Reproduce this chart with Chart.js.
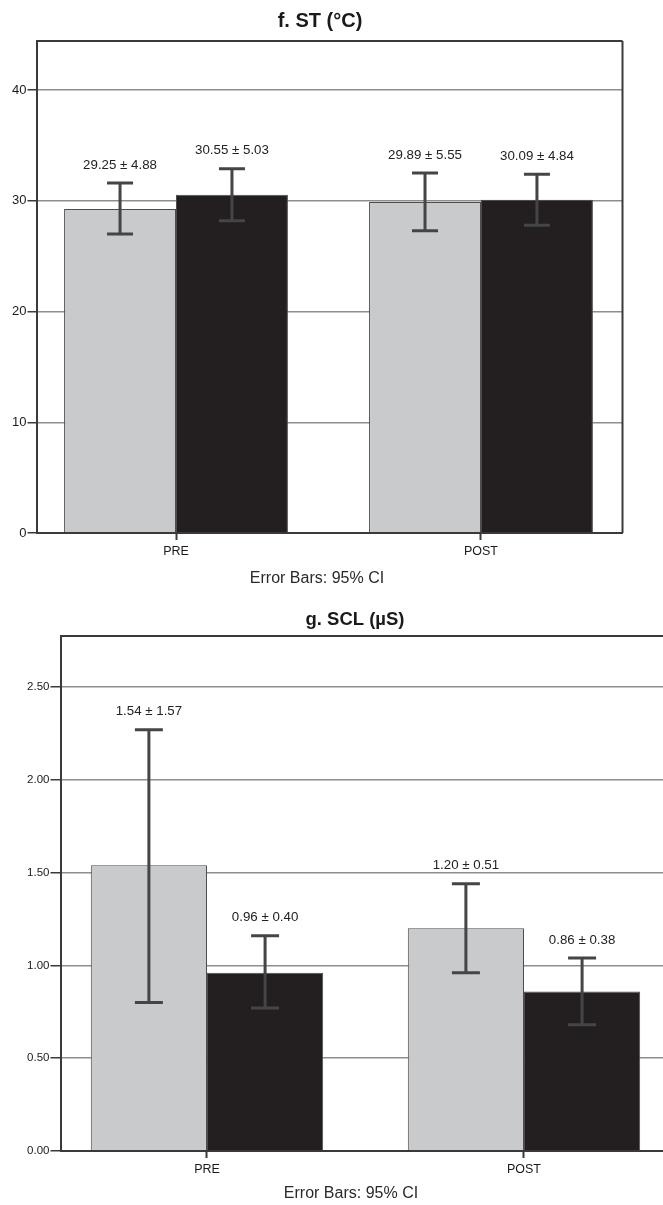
<!DOCTYPE html>
<html>
<head>
<meta charset="utf-8">
<script src="https://cdn.jsdelivr.net/npm/chart.js@4.4.1/dist/chart.umd.min.js"></script>
<style>
  html, body { margin: 0; padding: 0; background: #fff; overflow: hidden; }
  #wrap { position: relative; width: 663px; height: 1205px; }
  .panel { position: absolute; left: 0; width: 663px; }
  #p1 { top: 0; height: 600px; }
  #p2 { top: 600px; height: 605px; }
</style>
</head>
<body>
<div id="wrap">
  <div class="panel" id="p1"><canvas id="c1" width="663" height="600"></canvas></div>
  <div class="panel" id="p2"><canvas id="c2" width="663" height="605"></canvas></div>
</div>
<script>
// Measurement phases on the x axis
const phases = ['PRE', 'POST'];

// f. ST (°C): means, SDs and 95% CI limits per group
const stMeanLight   = [29.25, 29.89];
const stSdLight     = [4.88, 5.55];
const stCiLowLight  = [27.0, 27.3];
const stCiHighLight = [31.6, 32.5];
const stMeanDark    = [30.55, 30.09];
const stSdDark      = [5.03, 4.84];
const stCiLowDark   = [28.2, 27.8];
const stCiHighDark  = [32.9, 32.4];
const stTicks       = [0, 10, 20, 30, 40];

// g. SCL (µS): means, SDs and 95% CI limits per group
const sclMeanLight   = [1.54, 1.20];
const sclSdLight     = [1.57, 0.51];
const sclCiLowLight  = [0.80, 0.96];
const sclCiHighLight = [2.27, 1.44];
const sclMeanDark    = [0.96, 0.86];
const sclSdDark      = [0.40, 0.38];
const sclCiLowDark   = [0.77, 0.68];
const sclCiHighDark  = [1.16, 1.04];
const sclTicks       = [0, 0.5, 1.0, 1.5, 2.0, 2.5];

const FONT = '"Liberation Sans", Arial, sans-serif';
const LIGHT = '#c9cacc';
const DARK = '#231f20';
const AXIS = '#3a3a3a';
const GRID = '#8e8e8e';

// Error bars, "mean ± SD" labels, frame and captions
const decor = {
  id: 'decor',
  afterDatasetsDraw(chart, args, o) {
    const ctx = chart.ctx;
    const y = chart.scales.y;
    o.series.forEach((s, di) => {
      const meta = chart.getDatasetMeta(di);
      meta.data.forEach((bar, i) => {
        const yl = y.getPixelForValue(s.lo[i]);
        const yh = y.getPixelForValue(s.hi[i]);
        const half = o.cap / 2;
        ctx.save();
        ctx.strokeStyle = '#454545';
        ctx.lineWidth = 3;
        ctx.beginPath();
        ctx.moveTo(bar.x, yl); ctx.lineTo(bar.x, yh);
        ctx.moveTo(bar.x - half, yh); ctx.lineTo(bar.x + half, yh);
        ctx.moveTo(bar.x - half, yl); ctx.lineTo(bar.x + half, yl);
        ctx.stroke();
        ctx.fillStyle = '#222';
        ctx.font = '13.3px ' + FONT;
        ctx.textAlign = 'center';
        ctx.textBaseline = 'middle';
        ctx.fillText(s.mean[i].toFixed(2) + ' ± ' + s.sd[i].toFixed(2), bar.x, yh - 18);
        ctx.restore();
      });
    });
  },
  afterDraw(chart, args, o) {
    const ctx = chart.ctx;
    const a = chart.chartArea;
    ctx.save();
    ctx.strokeStyle = AXIS;
    ctx.lineWidth = 2;
    ctx.beginPath();
    ctx.moveTo(a.left, a.top); ctx.lineTo(a.right, a.top);
    if (o.rightBorder) { ctx.moveTo(a.right, a.top); ctx.lineTo(a.right, a.bottom); }
    ctx.stroke();
    ctx.fillStyle = '#1a1a1a';
    ctx.textAlign = 'center';
    ctx.textBaseline = 'middle';
    ctx.font = 'bold ' + o.titleSize + 'px ' + FONT;
    ctx.fillText(o.title, o.titleX, o.titleY);
    ctx.font = '16px ' + FONT;
    ctx.fillStyle = '#2a2a2a';
    ctx.fillText('Error Bars: 95% CI', o.noteX, o.noteY);
    ctx.restore();
  }
};

function makePanel(canvasId, cfg) {
  const pointsOf = arr => arr.map((v, i) => ({ x: i, y: v }));
  return new Chart(document.getElementById(canvasId), {
    type: 'bar',
    data: {
      datasets: [
        { data: pointsOf(cfg.meanLight), backgroundColor: LIGHT, borderColor: '#4d4d4d', borderWidth: 1, borderSkipped: 'bottom' },
        { data: pointsOf(cfg.meanDark),  backgroundColor: DARK,  borderColor: '#4d4d4d', borderWidth: 1, borderSkipped: 'bottom' }
      ]
    },
    options: {
      responsive: false,
      animation: false,
      devicePixelRatio: 1,
      layout: { padding: cfg.padding },
      datasets: { bar: { categoryPercentage: cfg.catPct, barPercentage: 1.0 } },
      plugins: {
        legend: { display: false },
        tooltip: { enabled: false },
        decor: {
          series: [
            { mean: cfg.meanLight, sd: cfg.sdLight, lo: cfg.loLight, hi: cfg.hiLight },
            { mean: cfg.meanDark,  sd: cfg.sdDark,  lo: cfg.loDark,  hi: cfg.hiDark }
          ],
          cap: cfg.cap,
          title: cfg.title, titleSize: cfg.titleSize, titleX: cfg.titleX, titleY: cfg.titleY,
          noteX: cfg.noteX, noteY: cfg.noteY,
          rightBorder: cfg.rightBorder
        }
      },
      scales: {
        x: {
          type: 'linear',
          offset: false,
          min: cfg.xMin, max: cfg.xMax,
          afterBuildTicks: s => { s.ticks = phases.map((_, i) => ({ value: i })); },
          afterFit: s => { s.height = cfg.xHeight; },
          grid: { display: true, offset: false, drawOnChartArea: false, drawTicks: true, tickLength: 7, tickColor: AXIS, tickWidth: 2 },
          border: { display: true, color: AXIS, width: 2, z: 1 },
          ticks: {
            padding: 4,
            color: '#1a1a1a',
            font: { family: FONT, size: 12.5 },
            maxRotation: 0,
            callback: v => phases[v] ?? ''
          }
        },
        y: {
          min: 0, max: cfg.yMax,
          afterBuildTicks: s => { s.ticks = cfg.yTicks.map(v => ({ value: v })); },
          afterFit: s => { s.width = cfg.yWidth; },
          grid: { color: GRID, lineWidth: 1.5, drawTicks: true, tickLength: cfg.tickLen, tickColor: AXIS, tickWidth: 1.5 },
          border: { display: true, color: AXIS, width: 2, z: 1 },
          ticks: {
            padding: 1,
            color: '#1a1a1a',
            font: { family: FONT, size: cfg.yFont },
            callback: v => v.toFixed(cfg.decimals)
          }
        }
      }
    },
    plugins: [decor]
  });
}

makePanel('c1', {
  meanLight: stMeanLight, sdLight: stSdLight, loLight: stCiLowLight, hiLight: stCiHighLight,
  meanDark: stMeanDark, sdDark: stSdDark, loDark: stCiLowDark, hiDark: stCiHighDark,
  yTicks: stTicks, yMax: 44.43, decimals: 0, yFont: 13, tickLen: 9,
  padding: { left: 0, top: 41, right: 40.5, bottom: 0 },
  yWidth: 36.5, xHeight: 67,
  xMin: -0.4574, xMax: 1.464, catPct: 0.734, cap: 26,
  title: 'f. ST (°C)', titleSize: 20, titleX: 320, titleY: 21,
  noteX: 317, noteY: 578.5, rightBorder: true
});

makePanel('c2', {
  meanLight: sclMeanLight, sdLight: sclSdLight, loLight: sclCiLowLight, hiLight: sclCiHighLight,
  meanDark: sclMeanDark, sdDark: sclSdDark, loDark: sclCiLowDark, hiDark: sclCiHighDark,
  yTicks: sclTicks, yMax: 2.775, decimals: 2, yFont: 11.5, tickLen: 10,
  padding: { left: 0, top: 36, right: 0, bottom: 0 },
  yWidth: 60.5, xHeight: 54,
  xMin: -0.4621, xMax: 1.4385, catPct: 0.733, cap: 28,
  title: 'g. SCL (µS)', titleSize: 18.5, titleX: 355, titleY: 19.7,
  noteX: 351, noteY: 594, rightBorder: false
});
</script>
</body>
</html>
